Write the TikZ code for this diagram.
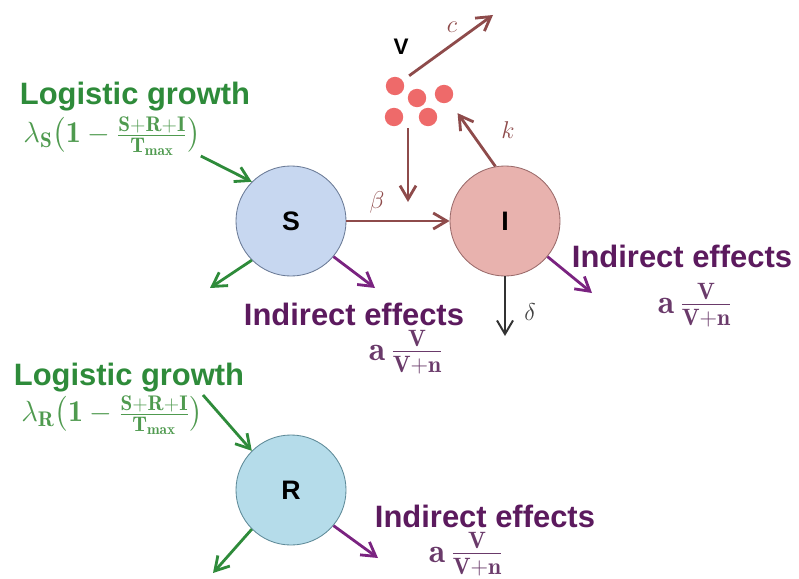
\documentclass[tikz,border=0pt]{standalone}
\usepackage{amsmath}
\usepackage{fontspec}
\setsansfont{Liberation Sans}
\usetikzlibrary{arrows.meta,positioning}

\definecolor{growgreen}{HTML}{2E8B3A}
\definecolor{rategreen}{HTML}{4F9A4F}
\definecolor{effpurple}{HTML}{5C1A5E}
\definecolor{ratepurple}{HTML}{6A3A6A}
\definecolor{arrpurple}{HTML}{7A2380}
\definecolor{infmaroon}{HTML}{8E4B4B}
\definecolor{sfill}{HTML}{C7D7F0}
\definecolor{sdraw}{HTML}{6A7A96}
\definecolor{ifill}{HTML}{E8B2AE}
\definecolor{idraw}{HTML}{9A6A6A}
\definecolor{rfill}{HTML}{B5DCEA}
\definecolor{rdraw}{HTML}{5E8A98}
\definecolor{virus}{HTML}{EE6A6A}

\begin{document}
\begin{tikzpicture}[x=0.025cm, y=-0.025cm,
    comp/.style={draw, circle, minimum size=2.75cm, inner sep=0pt, line width=0.6pt, font=\sffamily\bfseries\fontsize{19}{22}\selectfont},
    head/.style={anchor=base, inner sep=1pt, font=\sffamily\bfseries\fontsize{22}{26}\selectfont},
    rate/.style={inner sep=0pt, font=\fontsize{21.5}{25}\selectfont},
    sym/.style={font=\fontsize{18}{21}\selectfont, text=infmaroon},
    vdot/.style={circle, fill=virus, minimum size=0.46cm, inner sep=0pt},
    flow/.style={-{Straight Barb[length=3.4mm,width=4mm]}, line width=2pt, draw=infmaroon},
    growth/.style={flow, draw=growgreen},
    eff/.style={flow, draw=arrpurple},
]
\useasboundingbox (0,0) rectangle (799,578);

% Compartments
\node[comp, fill=sfill, draw=sdraw] (S) at (291,221) {S};
\node[comp, fill=ifill, draw=idraw] (I) at (505,221) {I};
\node[comp, fill=rfill, draw=rdraw] (R) at (291,490) {R};

% Virus particles
\node[font=\sffamily\bfseries\fontsize{16}{19}\selectfont, anchor=base] (V) at (401,55) {V};
\node[vdot] (d1) at (395,86) {};
\node[vdot] (d2) at (417,98) {};
\node[vdot] (d3) at (444,94) {};
\node[vdot] (d4) at (394,117) {};
\node[vdot] (d5) at (428,117) {};

\coordinate (cend) at (493,15);
\coordinate (vtop) at (408,128);
\coordinate (vtip) at (408,202);
\coordinate (dend) at (505,336);

\draw[flow, shorten <=0.2cm] (d1) -- (cend);
\draw[flow, shorten >=0.35cm] (I.100) -- (d3);
\draw[flow] (vtop) -- (vtip);
\draw[flow] (S) -- (I);
\draw[flow, line width=1.4pt, draw=black!80] (I) -- (dend);

\node[sym] (clab) at (452,27) {$c$};
\node[sym] (klab) at (508,130) {$k$};
\node[sym] (blab) at (377,202) {$\beta$};
\node[sym, text=black!75] (dlab) at (530,312) {$\delta$};

% Logistic growth
\node[head, text=growgreen] (lgS) at (135,104) {Logistic growth};
\node[rate, text=rategreen] (lgSr) at (112,136) {$\lambda_{\mathbf{S}}\bigl(\mathbf{1}-\frac{\mathbf{S+R+I}}{\mathbf{T}_{\mathbf{max}}}\bigr)$};
\node[head, text=growgreen] (lgR) at (129,385) {Logistic growth};
\node[rate, text=rategreen] (lgRr) at (112,415) {$\lambda_{\mathbf{R}}\bigl(\mathbf{1}-\frac{\mathbf{S+R+I}}{\mathbf{T}_{\mathbf{max}}}\bigr)$};

\draw[growth] (lgSr.south east) -- (S.135);
\draw[growth] (lgRr.north east) -- (R.135);

% Outflows
\coordinate (Sout) at (210,288);
\coordinate (Rout) at (213,573);
\coordinate (Seff) at (375,288);
\coordinate (Ieff) at (592,293);
\coordinate (Reff) at (378,558);

\draw[growth] (S.225) -- (Sout);
\draw[growth] (R.225) -- (Rout);
\draw[eff] (S.-40) -- (Seff);
\draw[eff] (I.-40) -- (Ieff);
\draw[eff] (R.-40) -- (Reff);

% Indirect effects
\node[head, text=effpurple] (ieS) at (354,325) {Indirect effects};
\node[rate, text=ratepurple, font=\fontsize{24}{28}\selectfont] (ieSr) at (406,352) {$\mathbf{a}\,\frac{\mathbf{V}}{\mathbf{V+n}}$};
\node[head, text=effpurple] (ieI) at (682,267) {Indirect effects};
\node[rate, text=ratepurple, font=\fontsize{24}{28}\selectfont] (ieIr) at (695,305) {$\mathbf{a}\,\frac{\mathbf{V}}{\mathbf{V+n}}$};
\node[head, text=effpurple] (ieR) at (485,527) {Indirect effects};
\node[rate, text=ratepurple, font=\fontsize{24}{28}\selectfont] (ieRr) at (466,554) {$\mathbf{a}\,\frac{\mathbf{V}}{\mathbf{V+n}}$};

\end{tikzpicture}
\end{document}
